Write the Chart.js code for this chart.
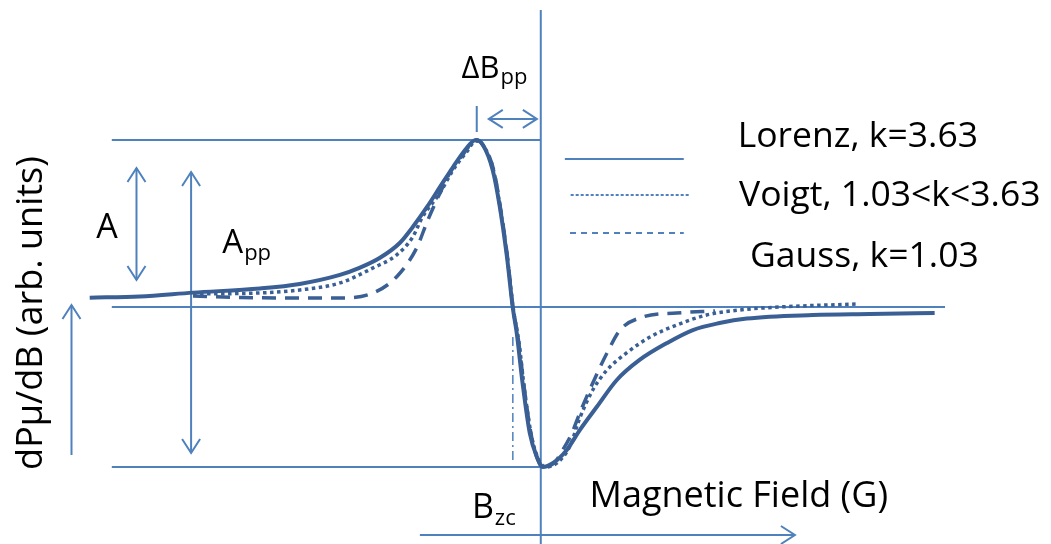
<!DOCTYPE html>
<html>
<head>
<meta charset="utf-8">
<script src="https://cdn.jsdelivr.net/npm/chart.js@4"></script>
<style>
  html, body { margin: 0; padding: 0; background: #fff; }
  #caixa { width: 1051px; height: 544px; }
</style>
</head>
<body>
<div id="caixa"><canvas id="graficoEpr"></canvas></div>
<script>
// Limites dos eixos (campo relativo em G, sinal em unidades arbitrárias)
const XMIN = -83.2, XMAX = 78.5;
const YMIN = -141.9, YMAX = 183.8;

// Lorentz, k=3.63
const campoLorenz = [-69.4,-61.7,-53.5,-43.2,-37.1,-30.9,-27.9,-24.8,-21.7,-19.7,-17.5,-15.5,-13.5,-11.4,-10.0,-8.9,-7.4,-6.3,-5.2,-4.3,-3.7,-2.8,-1.7,-0.6,0.3,1.9,4.0,6.0,8.6,11.7,15.2,19.4,23.4,27.5,31.7,41.9,50.6,60.6];
const sinalLorenz = [5.6,6.3,8.6,11.1,13.8,19.2,23.4,29.3,38.3,47.9,59.9,71.9,83.8,95.2,100,97.0,82.0,59.9,29.9,-0.6,-15.6,-45.5,-75.4,-89.8,-95.8,-93.4,-85.6,-73.7,-59.9,-43.7,-31.7,-21.6,-13.8,-9.6,-6.9,-4.8,-4.2,-3.6];

// Voigt, 1.03<k<3.63
const campoVoigt = [-53.5,-43.2,-37.1,-30.9,-25.8,-22.2,-19.7,-18.2,-15.5,-13.5,-11.4,-10.0,-8.8,-7.2,-6.2,-5.1,-4.2,-3.4,-2.5,-1.4,-0.3,0.8,2.5,4.5,6.0,8.0,10.2,13.2,16.8,20.9,25.5,30.6,36.8,48.6];
const sinalVoigt = [7.8,8.4,10.2,14.4,23.4,31.1,41.9,53.9,68.3,82.0,92.8,99.4,96.4,80.8,58.1,28.1,-1.8,-19.8,-49.7,-77.8,-91.6,-95.8,-93.4,-83.2,-66.5,-49.7,-37.7,-27.5,-18.0,-10.8,-4.8,-1.8,0,1.8];

// Gauss, k=1.03
const campoGauss = [-53.5,-46.3,-37.1,-30.9,-25.8,-22.2,-19.1,-17.5,-15.5,-14.0,-12.0,-10.6,-9.8,-8.8,-7.2,-6.2,-5.1,-4.3,-3.5,-2.6,-1.5,-0.5,0.6,2.2,3.2,4.8,6.0,8.0,10.2,12.2,15.7,20.9,26.8];
const sinalGauss = [6.6,5.7,5.4,5.4,8.4,18.0,35.3,50.9,68.3,80.2,91.0,98.2,100,96.4,81.4,59.3,29.3,0,-18.0,-46.7,-76.0,-91.0,-95.8,-92.8,-86.8,-75.4,-63.5,-45.5,-27.5,-13.8,-6.0,-3.6,-2.4];

// Níveis de referência
const nivelPico = 100, nivelVale = -95.8, nivelZero = 0;
const campoPico = -9.85, campoVale = 0, campoCruzamento = -4.3;

const AZUL_GUIA  = '#4F81BD';
const AZUL_CURVA = '#3A5F94';
const FONTE = '"Open Sans", Lato, sans-serif';

// Linhas guia (em unidades dos eixos)
const linhasGuia = [
    { x: [-66, campoVale],  y: [nivelPico, nivelPico] },
    { x: [-66, 62.2],       y: [nivelZero, nivelZero] },
    { x: [-66, campoVale],  y: [nivelVale, nivelVale] },
    { x: [campoVale, campoVale], y: [177.8, YMIN] },
    { x: [campoPico, campoPico], y: [120.4, 104.8] }
];

// Setas: ponta em 'fim' ou em 'ambas'
const setas = [
    { x: [-18.6, 39.1],  y: [-136.5, -136.5], pontas: 'fim' },
    { x: [-72.2, -72.2], y: [-88.6, 1.2],     pontas: 'fim' },
    { x: [-62.2, -62.2], y: [16.2, 83.2],     pontas: 'ambas' },
    { x: [-53.8, -53.8], y: [-87.4, 80.8],    pontas: 'ambas' },
    { x: [-8.0, -0.6],   y: [112.6, 112.6],   pontas: 'ambas' }
];

// Amostras da legenda
const legendaTextos = ['Lorenz, k=3.63', 'Voigt, 1.03<k<3.63', 'Gauss, k=1.03'];
const legendaLinhas = [
    { x: [3.7, 22.0], y: [88.6, 88.6], dash: [] },
    { x: [4.6, 23.0], y: [67.1, 67.1], dash: [3, 2] },
    { x: [4.5, 22.0], y: [44.3, 44.3], dash: [6, 5] }
];

// Rótulos: texto, subscrito, âncora (esquerda/linha base) em unidades dos eixos
const rotulos = [
    { t: legendaTextos[0], s: '', x: 30.3, y: 95.8, tam: 35.5 },
    { t: legendaTextos[1], s: '', x: 30.5, y: 60.5, tam: 35.5 },
    { t: legendaTextos[2], s: '', x: 32.2, y: 24.0, tam: 35.5 },
    { t: 'A', s: '',   x: -68.4, y: 41.3, tam: 34 },
    { t: 'A', s: 'pp', x: -49.0, y: 32.3, tam: 33, tamS: 22, desl: 7 },
    { t: 'ΔB', s: 'pp', x: -12.2, y: 137.1, tam: 31, tamS: 22, desl: 6 },
    { t: 'B', s: 'zc', x: -10.6, y: -126.3, tam: 34, tamS: 22, desl: 7 },
    { t: 'Magnetic Field (G)', s: '', x: 7.5, y: -119.8, tam: 36 }
];
const rotuloEixoY = { t: 'dPμ/dB (arb. units)', x: -78.3, y: -3.6, tam: 36 };

const pontos = (xs, ys) => xs.map((x, i) => ({ x, y: ys[i] }));

const curvas = [
    { label: legendaTextos[0], data: pontos(campoLorenz, sinalLorenz), borderColor: AZUL_CURVA, borderWidth: 4, borderDash: [] },
    { label: legendaTextos[1], data: pontos(campoVoigt, sinalVoigt),   borderColor: AZUL_CURVA, borderWidth: 3.5, borderDash: [3.5, 3.5] },
    { label: legendaTextos[2], data: pontos(campoGauss, sinalGauss),   borderColor: AZUL_CURVA, borderWidth: 3.5, borderDash: [14, 9] }
].map(d => ({ ...d, cubicInterpolationMode: 'monotone', pointRadius: 0, fill: false }));

const guias = [...linhasGuia, ...setas].map(l => ({
    data: pontos(l.x, l.y), borderColor: AZUL_GUIA, borderWidth: 2, pointRadius: 0, tension: 0
}));

const amostras = legendaLinhas.map(l => ({
    data: pontos(l.x, l.y), borderColor: AZUL_GUIA, borderWidth: 2, borderDash: l.dash, pointRadius: 0, tension: 0
}));

const traçoPonto = {
    data: pontos([campoCruzamento, campoCruzamento], [-18.0, -93.4]),
    borderColor: AZUL_GUIA, borderWidth: 1.5, borderDash: [9, 4, 2, 4], pointRadius: 0
};

function desenharTexto(ctx, r, px, py) {
    ctx.font = `${r.tam}px ${FONTE}`;
    ctx.fillText(r.t, px, py);
    if (r.s) {
        const w = ctx.measureText(r.t).width;
        ctx.font = `${r.tamS}px ${FONTE}`;
        ctx.fillText(r.s, px + w + 1, py + r.desl);
    }
}

const extras = {
    id: 'extras',
    afterDatasetsDraw(chart) {
        const { ctx, scales: { x, y } } = chart;
        ctx.save();

        // pontas das setas
        ctx.strokeStyle = AZUL_GUIA;
        ctx.lineWidth = 2;
        const ponta = (ax, ay, bx, by) => {
            const dx = bx - ax, dy = by - ay, n = Math.hypot(dx, dy);
            const ux = dx / n, uy = dy / n, L = 14, W = 9;
            ctx.beginPath();
            ctx.moveTo(bx - L * ux - W * uy, by - L * uy + W * ux);
            ctx.lineTo(bx, by);
            ctx.lineTo(bx - L * ux + W * uy, by - L * uy - W * ux);
            ctx.stroke();
        };
        setas.forEach(s => {
            const ax = x.getPixelForValue(s.x[0]), ay = y.getPixelForValue(s.y[0]);
            const bx = x.getPixelForValue(s.x[1]), by = y.getPixelForValue(s.y[1]);
            ponta(ax, ay, bx, by);
            if (s.pontas === 'ambas') ponta(bx, by, ax, ay);
        });

        // textos
        ctx.fillStyle = '#000';
        ctx.textBaseline = 'alphabetic';
        ctx.textAlign = 'left';
        rotulos.forEach(r => desenharTexto(ctx, r, x.getPixelForValue(r.x), y.getPixelForValue(r.y)));

        ctx.translate(x.getPixelForValue(rotuloEixoY.x), y.getPixelForValue(rotuloEixoY.y));
        ctx.rotate(-Math.PI / 2);
        ctx.textAlign = 'center';
        ctx.textBaseline = 'middle';
        ctx.font = `${rotuloEixoY.tam}px ${FONTE}`;
        ctx.fillText(rotuloEixoY.t, 0, 0);
        ctx.restore();
    }
};

new Chart(document.getElementById('graficoEpr'), {
    type: 'line',
    data: { datasets: [...curvas, traçoPonto, ...guias, ...amostras] },
    options: {
        responsive: true,
        maintainAspectRatio: false,
        animation: false,
        layout: { padding: 0 },
        plugins: { legend: { display: false }, tooltip: { enabled: false } },
        scales: {
            x: { type: 'linear', min: XMIN, max: XMAX, display: false },
            y: { type: 'linear', min: YMIN, max: YMAX, display: false }
        }
    },
    plugins: [extras]
});
</script>
</body>
</html>
